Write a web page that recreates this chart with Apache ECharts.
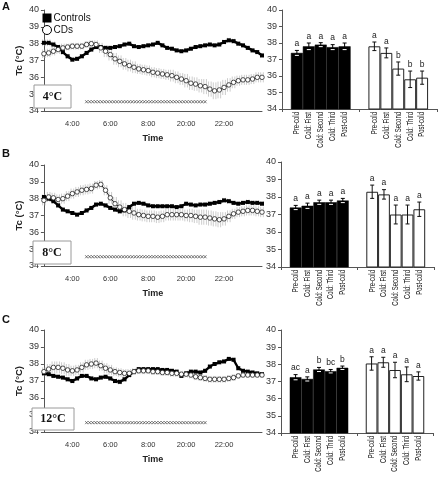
<!DOCTYPE html>
<html><head><meta charset="utf-8">
<script src="https://cdn.jsdelivr.net/npm/echarts@6/dist/echarts.min.js"></script>
<style>html,body{margin:0;padding:0;background:#fff}#c{width:439px;height:483px}</style>
</head><body><div id="c"></div>
<script>
// ---------- DATA ----------
const times = ['2:30','2:45','3:00','3:15','3:30','3:45','4:00','4:15','4:30','4:45','5:00','5:15','5:30','5:45','6:00','6:15','6:30','6:45','7:00','7:15','7:30','7:45','8:00','8:15','8:30','8:45','9:00','19:15','19:30','19:45','20:00','20:15','20:30','20:45','21:00','21:15','21:30','21:45','22:00','22:15','22:30','22:45','23:00','23:15','23:30','23:45','24:00'];
const tickLabels = ['4:00','6:00','8:00','20:00','22:00'];
const coldStart = '4:45', coldEnd = '21:00';
const panelLetters = ['A','B','C'];
const tempLabels = ['4°C','8°C','12°C'];
const seriesNames = ['Controls','CDs'];
const phases = ['Pre-cold','Cold: First','Cold: Second','Cold: Third','Post-cold'];

const ctrlA = [38.05,38.05,37.95,37.8,37.5,37.25,37.05,37.1,37.25,37.45,37.65,37.8,37.8,37.75,37.75,37.8,37.85,37.95,38.0,37.85,37.8,37.85,37.9,37.95,38.05,37.9,37.75,37.7,37.6,37.55,37.6,37.7,37.8,37.85,37.9,37.95,37.9,37.95,38.1,38.2,38.15,38.0,37.9,37.75,37.6,37.5,37.3];
const ctrlErrA = [0.2,0.2,0.18,0.15,0.15,0.15,0.12,0.12,0.12,0.12,0.12,0.12,0.1,0.1,0.1,0.1,0.1,0.1,0.1,0.1,0.1,0.1,0.1,0.1,0.1,0.1,0.1,0.1,0.1,0.1,0.1,0.1,0.1,0.1,0.1,0.1,0.1,0.12,0.15,0.15,0.15,0.12,0.12,0.12,0.12,0.12,0.12];
const cdA = [37.4,37.45,37.55,37.65,37.75,37.8,37.85,37.85,37.85,37.95,38.0,37.95,37.75,37.55,37.35,37.1,36.95,36.8,36.7,36.6,36.5,36.45,36.4,36.3,36.25,36.2,36.15,36.1,36.0,35.9,35.8,35.65,35.6,35.5,35.45,35.3,35.2,35.25,35.4,35.55,35.7,35.8,35.85,35.85,35.9,36.0,36.0];
const cdErrA = [0.25,0.25,0.25,0.25,0.25,0.2,0.2,0.2,0.2,0.2,0.2,0.25,0.3,0.35,0.35,0.35,0.35,0.35,0.35,0.35,0.3,0.3,0.3,0.3,0.3,0.3,0.3,0.35,0.35,0.35,0.4,0.4,0.4,0.4,0.45,0.45,0.5,0.5,0.45,0.4,0.35,0.3,0.3,0.3,0.3,0.3,0.3];

const ctrlB = [38.1,38.0,37.85,37.6,37.35,37.25,37.15,37.05,37.15,37.3,37.45,37.65,37.7,37.6,37.45,37.35,37.25,37.3,37.5,37.7,37.75,37.7,37.6,37.55,37.55,37.55,37.55,37.55,37.5,37.55,37.7,37.65,37.6,37.65,37.65,37.7,37.75,37.8,37.9,37.85,37.75,37.7,37.75,37.8,37.75,37.75,37.7];
const ctrlErrB = [0.15,0.15,0.15,0.15,0.12,0.12,0.12,0.12,0.12,0.12,0.12,0.12,0.12,0.12,0.12,0.12,0.12,0.12,0.12,0.12,0.12,0.1,0.1,0.1,0.1,0.1,0.1,0.1,0.1,0.1,0.1,0.1,0.1,0.1,0.1,0.12,0.12,0.15,0.15,0.15,0.12,0.12,0.12,0.15,0.15,0.15,0.15];
const cdB = [37.9,38.1,38.05,37.95,38.0,38.15,38.3,38.4,38.5,38.55,38.6,38.8,38.85,38.5,38.05,37.7,37.5,37.35,37.25,37.15,37.05,37.0,36.95,36.95,36.9,36.95,37.05,37.05,37.05,37.05,37.0,37.0,36.95,36.9,36.9,36.85,36.8,36.75,36.8,36.95,37.1,37.2,37.25,37.3,37.3,37.25,37.2];
const cdErrB = [0.3,0.3,0.3,0.3,0.3,0.3,0.3,0.3,0.3,0.3,0.3,0.25,0.25,0.3,0.35,0.4,0.4,0.4,0.4,0.4,0.35,0.35,0.35,0.35,0.35,0.35,0.35,0.35,0.35,0.35,0.35,0.4,0.4,0.45,0.45,0.45,0.45,0.45,0.4,0.35,0.3,0.3,0.3,0.3,0.3,0.3,0.3];

const ctrlC = [37.45,37.4,37.3,37.25,37.2,37.1,37.0,37.15,37.3,37.3,37.15,37.1,37.2,37.25,37.15,37.0,36.95,37.1,37.35,37.55,37.7,37.7,37.7,37.7,37.7,37.65,37.65,37.6,37.55,37.3,37.45,37.55,37.55,37.5,37.6,37.85,38.0,38.1,38.15,38.3,38.25,37.75,37.6,37.55,37.5,37.45,37.4];
const ctrlErrC = [0.12,0.12,0.12,0.12,0.12,0.15,0.15,0.15,0.12,0.12,0.12,0.12,0.12,0.12,0.12,0.15,0.15,0.15,0.12,0.12,0.12,0.12,0.12,0.12,0.12,0.12,0.12,0.12,0.12,0.12,0.12,0.12,0.12,0.12,0.12,0.12,0.12,0.12,0.12,0.12,0.12,0.12,0.12,0.12,0.12,0.12,0.12];
const cdC = [37.55,37.7,37.8,37.8,37.75,37.65,37.6,37.65,37.8,37.95,38.0,38.05,37.9,37.75,37.65,37.55,37.5,37.45,37.45,37.55,37.6,37.6,37.6,37.55,37.55,37.5,37.5,37.45,37.45,37.4,37.4,37.35,37.25,37.2,37.15,37.1,37.1,37.1,37.1,37.15,37.2,37.3,37.35,37.35,37.35,37.35,37.35];
const cdErrC = [0.25,0.3,0.35,0.35,0.35,0.35,0.3,0.3,0.3,0.3,0.3,0.3,0.3,0.3,0.3,0.25,0.25,0.25,0.25,0.2,0.2,0.2,0.2,0.2,0.2,0.2,0.2,0.2,0.2,0.2,0.2,0.2,0.2,0.2,0.2,0.2,0.2,0.2,0.2,0.2,0.2,0.15,0.15,0.15,0.15,0.15,0.15];

const barCtrlA = [37.4,37.8,37.9,37.75,37.8];
const barCtrlErrA = [0.15,0.2,0.12,0.15,0.2];
const barCdA = [37.8,37.4,36.45,35.8,35.9];
const barCdErrA = [0.26,0.3,0.4,0.5,0.4];
const lettersCtrlA = ['a','a','a','a','a'];
const lettersCdA = ['a','a','b','b','b'];

const barCtrlB = [37.4,37.5,37.7,37.7,37.8];
const barCtrlErrB = [0.12,0.15,0.12,0.12,0.12];
const barCdB = [38.3,38.15,37.0,37.0,37.3];
const barCdErrB = [0.38,0.27,0.54,0.54,0.41];
const lettersCtrlB = ['a','a','a','a','a'];
const lettersCdB = ['a','a','a','a','a'];

const barCtrlC = [37.25,37.15,37.7,37.6,37.8];
const barCtrlErrC = [0.15,0.12,0.12,0.1,0.1];
const barCdC = [38.05,38.12,37.67,37.42,37.32];
const barCdErrC = [0.39,0.29,0.45,0.43,0.24];
const lettersCtrlC = ['ac','a','b','bc','b'];
const lettersCdC = ['a','a','a','a','a'];

// ---------- LAYOUT ----------
const FONT = '"Liberation Sans", Arial, sans-serif';
const lineGrids = [
  {left:29, top:10, width:233, height:101},
  {left:30, top:165, width:232, height:101},
  {left:29, top:330, width:233, height:102}
];
const barGrids = [
  {left:282, top:10, width:155, height:99},
  {left:281, top:162, width:153, height:105},
  {left:281, top:330, width:152, height:103}
];
const tempBoxes = [
  {x:34, y:85, w:37, h:23},
  {x:33, y:241, w:38, h:23},
  {x:32, y:408, w:42, h:22}
];
const letterTops = [1, 148, 314];
const BAR_GAP = 0.23;

const panels = [
  {ctrl:ctrlA, ctrlErr:ctrlErrA, cd:cdA, cdErr:cdErrA, bc:barCtrlA, bce:barCtrlErrA, bd:barCdA, bde:barCdErrA, lc:lettersCtrlA, ld:lettersCdA},
  {ctrl:ctrlB, ctrlErr:ctrlErrB, cd:cdB, cdErr:cdErrB, bc:barCtrlB, bce:barCtrlErrB, bd:barCdB, bde:barCdErrB, lc:lettersCtrlB, ld:lettersCdB},
  {ctrl:ctrlC, ctrlErr:ctrlErrC, cd:cdC, cdErr:cdErrC, bc:barCtrlC, bce:barCtrlErrC, bd:barCdC, bde:barCdErrC, lc:lettersCtrlC, ld:lettersCdC}
];

const grid = [], xAxis = [], yAxis = [], series = [], graphic = [];
const axisCol = '#555';

function lineErrRender(params, api) {
  const i = api.value(0), m = api.value(1), e = api.value(2);
  const t = api.coord([i, m + e]), b = api.coord([i, m - e]);
  const ch = [];
  [-1.3, 1.3].forEach(dx => ch.push({type:'line', shape:{x1:t[0]+dx, y1:t[1], x2:b[0]+dx, y2:b[1]}, style:{stroke:'#cdcdcd', lineWidth:1}}));
  return {type:'group', children: ch};
}

panels.forEach((p, k) => {
  const lg = 2*k, bg = 2*k + 1;
  grid.push(Object.assign({}, lineGrids[k]));
  grid.push(Object.assign({}, barGrids[k]));

  // line chart axes
  xAxis.push({type:'category', gridIndex:lg, data:times, boundaryGap:false,
    axisLine:{lineStyle:{color:axisCol, width:1}}, axisTick:{show:false},
    axisLabel:{interval:(i, v) => tickLabels.indexOf(v) >= 0, fontSize:7.5, color:'#333', margin:9, fontFamily:FONT},
    name:'Time', nameLocation:'middle', nameGap:23,
    nameTextStyle:{fontWeight:'bold', fontSize:9, color:'#222', fontFamily:FONT}});
  yAxis.push({type:'value', gridIndex:lg, min:34, max:40, interval:1,
    axisLine:{show:true, lineStyle:{color:axisCol}}, axisTick:{show:true, length:3, lineStyle:{color:axisCol}},
    splitLine:{show:false}, axisLabel:{fontSize:9, color:'#333', margin:5, fontFamily:FONT},
    name:'Tc (°C)', nameLocation:'middle', nameGap:20, nameRotate:90,
    nameTextStyle:{fontWeight:'bold', fontSize:9.5, color:'#222', fontFamily:FONT}});
  // bar chart axes
  xAxis.push({type:'category', gridIndex:bg, data:seriesNames, boundaryGap:true,
    axisLine:{lineStyle:{color:axisCol}}, axisTick:{show:true, length:3, lineStyle:{color:axisCol}},
    axisLabel:{show:false}});
  yAxis.push({type:'value', gridIndex:bg, min:34, max:40, interval:1,
    axisLine:{show:true, lineStyle:{color:axisCol}}, axisTick:{show:true, length:3, lineStyle:{color:axisCol}},
    splitLine:{show:false}, axisLabel:{fontSize:9, color:'#333', margin:5, fontFamily:FONT}});

  // error bands
  series.push({type:'custom', xAxisIndex:lg, yAxisIndex:lg, silent:true, z:1,
    data:p.ctrl.map((m, i) => [i, m, p.ctrlErr[i]]), encode:{x:0, y:1}, renderItem:lineErrRender});
  series.push({type:'custom', xAxisIndex:lg, yAxisIndex:lg, silent:true, z:1,
    data:p.cd.map((m, i) => [i, m, p.cdErr[i]]), encode:{x:0, y:1}, renderItem:lineErrRender});
  // lines
  series.push({type:'line', name:'Controls', xAxisIndex:lg, yAxisIndex:lg, data:p.ctrl, z:3,
    symbol:'rect', symbolSize:4, showAllSymbol:true, lineStyle:{color:'#000', width:2.4},
    itemStyle:{color:'#000'}, silent:true});
  series.push({type:'line', name:'CDs', xAxisIndex:lg, yAxisIndex:lg, data:p.cd, z:4,
    symbol:'circle', symbolSize:4.5, showAllSymbol:true, lineStyle:{color:'#222', width:1},
    itemStyle:{color:'#fff', borderColor:'#222', borderWidth:0.8}, silent:true});
  // cold-exposure marker row
  series.push({type:'custom', xAxisIndex:lg, yAxisIndex:lg, silent:true, z:2,
    data:[[times.indexOf(coldStart), 34.55, times.indexOf(coldEnd)]], encode:{x:0, y:1},
    renderItem:(params, api) => {
      const a = api.coord([api.value(0), api.value(1)]), b = api.coord([api.value(2), api.value(1)]);
      const n = Math.round((b[0] - a[0]) / 3.05);
      const step = (b[0] - a[0]) / n, y = a[1], ch = [];
      for (let j = 0; j <= n; j++) {
        const cx = a[0] + j*step;
        ch.push({type:'line', shape:{x1:cx-1.4, y1:y-1.5, x2:cx+1.4, y2:y+1.5}, style:{stroke:'#444', lineWidth:0.7}});
        ch.push({type:'line', shape:{x1:cx-1.4, y1:y+1.5, x2:cx+1.4, y2:y-1.5}, style:{stroke:'#444', lineWidth:0.7}});
      }
      return {type:'group', children:ch};
    }});

  // bars
  phases.forEach((ph, i) => {
    series.push({type:'bar', name:ph, xAxisIndex:bg, yAxisIndex:bg, barGap:'0%', barCategoryGap:(BAR_GAP*100)+'%',
      silent:true, z:2,
      data:[{value:p.bc[i], itemStyle:{color:'#000', borderColor:'#000', borderWidth:0.5}},
            {value:p.bd[i], itemStyle:{color:'#fff', borderColor:'#222', borderWidth:1}}]});
  });
  // bar error bars, significance letters and phase labels
  const items = [];
  phases.forEach((ph, i) => {
    items.push({g:0, i, m:p.bc[i], e:p.bce[i], t:p.lc[i], ph});
    items.push({g:1, i, m:p.bd[i], e:p.bde[i], t:p.ld[i], ph});
  });
  series.push({type:'custom', xAxisIndex:bg, yAxisIndex:bg, silent:true, z:5, clip:false,
    data:items.map(d => [d.g, d.m]), encode:{x:0, y:1},
    renderItem:(params, api) => {
      const d = items[params.dataIndex];
      const catW = api.size([1, 0])[0];
      const bw = catW * (1 - BAR_GAP) / 5;
      const c = api.coord([d.g, d.m]);
      const x = c[0] + (d.i - 2) * bw;
      const yt = api.coord([d.g, d.m + d.e])[1], yb = api.coord([d.g, d.m - d.e])[1];
      const y0 = api.coord([d.g, 34])[1];
      const col = d.g === 0 ? '#000' : '#111';
      return {type:'group', children:[
        {type:'line', shape:{x1:x, y1:yt, x2:x, y2:yb}, style:{stroke:col, lineWidth:1}},
        {type:'line', shape:{x1:x-2, y1:yt, x2:x+2, y2:yt}, style:{stroke:col, lineWidth:1}},
        {type:'line', shape:{x1:x-2, y1:yb, x2:x+2, y2:yb}, style:{stroke: d.g === 0 ? '#fff' : col, lineWidth:1}},
        {type:'text', x:x, y:yt-2, style:{text:d.t, align:'center', verticalAlign:'bottom', font:'8.5px ' + FONT, fill:'#222'}},
        {type:'text', x:x, y:y0+3, rotation:Math.PI/2, scaleX:0.7, style:{text:d.ph, align:'right', verticalAlign:'middle', font:'8.5px ' + FONT, fill:'#111'}}
      ]};
    }});

  // panel letter, temperature box
  graphic.push({type:'text', left:2, top:letterTops[k], style:{text:panelLetters[k], font:'bold 11px ' + FONT, fill:'#111'}});
  const tb = tempBoxes[k];
  graphic.push({type:'rect', shape:{x:tb.x, y:tb.y, width:tb.w, height:tb.h}, style:{fill:'#fff', stroke:'#9a9a9a', lineWidth:1}, z:10});
  graphic.push({type:'text', x:tb.x + tb.w/2, y:tb.y + tb.h/2, style:{text:tempLabels[k], align:'center', verticalAlign:'middle', font:'bold 12px "Liberation Serif", "Times New Roman", serif', fill:'#111'}, z:11});
});

const chart = echarts.init(document.getElementById('c'), null, {renderer:'canvas'});
chart.setOption({
  animation:false,
  backgroundColor:'#fff',
  textStyle:{fontFamily:FONT},
  legend:{orient:'vertical', left:37, top:8, itemWidth:9, itemHeight:9, itemGap:2,
    selectedMode:false,
    data:[{name:'Controls', icon:'rect', itemStyle:{color:'#000'}},
          {name:'CDs', icon:'circle', itemStyle:{color:'#fff', borderColor:'#000', borderWidth:1}}],
    textStyle:{fontSize:10, color:'#111', fontFamily:FONT, padding:[0,0,0,-3]}},
  grid, xAxis, yAxis, series, graphic
});
</script>
</body></html>
